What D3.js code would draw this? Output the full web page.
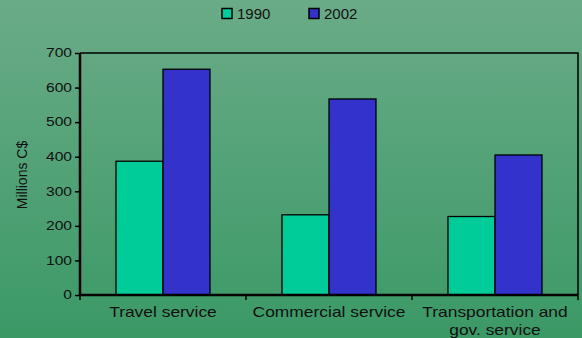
<!DOCTYPE html>
<html>
<head>
<meta charset="utf-8">
<script src="https://cdn.jsdelivr.net/npm/d3@7"></script>
<style>
  body { margin: 0; }
  svg { display: block; font-family: Arial, "Liberation Sans", sans-serif; }
</style>
</head>
<body>
<div id="container"></div>
<script>
const w = 582,
    h = 338;

// data
const categories = ["Travel service", "Commercial service", "Transportation and|gov. service"];
const years = ["1990", "2002"];
const values1990 = [387, 232, 227];
const values2002 = [653, 567, 405];
const yTicks = [0, 100, 200, 300, 400, 500, 600, 700];
const colors = {"1990": "#00cc99", "2002": "#3333cc"};

var svg = d3.select("div#container")
    .append("svg")
    .attr("width", w)
    .attr("height", h);

// background gradient
var grad = svg.append("defs").append("linearGradient")
    .attr("id", "bg")
    .attr("x1", 0).attr("y1", 0).attr("x2", 0).attr("y2", 1);
grad.append("stop").attr("offset", "0%").attr("stop-color", "#6aab88");
grad.append("stop").attr("offset", "100%").attr("stop-color", "#3b9966");
svg.append("rect")
    .attr("width", w)
    .attr("height", h)
    .style("fill", "url(#bg)");

var x = d3.scaleBand().domain(categories).range([80, 578]);
var x1 = d3.scaleBand().domain(years).range([0, x.bandwidth()]).paddingOuter(0.766);
var y = d3.scaleLinear().domain([0, 700]).range([295, 53]);

var rows = categories.map((c, i) => ({cat: c, vals: [
    {year: "1990", v: values1990[i]},
    {year: "2002", v: values2002[i]}
]}));

// frame (top and right)
svg.append("path")
    .attr("d", "M" + x.range()[0] + "," + y(700) + "H" + x.range()[1] + "V" + y(0))
    .attr("fill", "none")
    .attr("stroke", "#000")
    .attr("stroke-width", 1.5);

// bars
svg.append("g").selectAll("g")
    .data(rows)
    .enter().append("g")
    .attr("transform", d => "translate(" + x(d.cat) + ",0)")
    .selectAll("rect")
    .data(d => d.vals)
    .enter().append("rect")
    .attr("x", d => x1(d.year))
    .attr("y", d => y(d.v))
    .attr("width", x1.bandwidth())
    .attr("height", d => y(0) - y(d.v))
    .style("fill", d => colors[d.year])
    .style("stroke", "#000")
    .style("stroke-width", 1.3);

// y axis
var yAxis = svg.append("g")
    .attr("transform", "translate(80,0)")
    .call(d3.axisLeft(y).tickValues(yTicks).tickSize(5).tickPadding(3));
yAxis.select(".domain").attr("stroke", "#000").attr("stroke-width", 2.5).attr("d", "M0," + y(0) + "V" + y(700));
yAxis.selectAll(".tick line").attr("stroke", "#000").attr("stroke-width", 1.5);
yAxis.selectAll("text")
    .style("font-size", "12px")
    .style("fill", "#111")
    .each(function () {
        var len = this.getComputedTextLength();
        d3.select(this).attr("textLength", len * 1.3).attr("lengthAdjust", "spacingAndGlyphs");
    });

// x axis
svg.append("line")
    .attr("x1", 80).attr("x2", 578)
    .attr("y1", y(0)).attr("y2", y(0))
    .attr("stroke", "#000").attr("stroke-width", 2.5);
var xTickPos = categories.map(c => x(c)).concat([x.range()[1]]);
svg.append("g").selectAll("line")
    .data(xTickPos)
    .enter().append("line")
    .attr("x1", d => d).attr("x2", d => d)
    .attr("y1", y(0)).attr("y2", y(0) + 5)
    .attr("stroke", "#000").attr("stroke-width", 1.5);

var xl = svg.append("g").selectAll("text")
    .data(categories)
    .enter().append("text")
    .attr("x", d => x(d) + x.bandwidth() / 2)
    .attr("y", 317)
    .attr("text-anchor", "middle")
    .style("font-size", "15px")
    .style("fill", "#111");
xl.each(function (d) {
    var t = d3.select(this);
    d.split("|").forEach(function (part, i) {
        var ts = t.append("tspan")
            .attr("x", x(d) + x.bandwidth() / 2)
            .attr("dy", i === 0 ? 0 : 18)
            .text(part);
        var len = ts.node().getComputedTextLength();
        ts.attr("textLength", len * 1.16).attr("lengthAdjust", "spacingAndGlyphs");
    });
});

// y title
svg.append("text")
    .attr("transform", "translate(27," + 175 + ") rotate(-90)")
    .attr("text-anchor", "middle")
    .style("font-size", "14px")
    .style("fill", "#111")
    .text("Millions C$");

// legend
var legend = svg.append("g");
var legX = [222, 309];
years.forEach(function (yr, i) {
    legend.append("rect")
        .attr("x", legX[i])
        .attr("y", 8.5)
        .attr("width", 10)
        .attr("height", 10)
        .style("fill", colors[yr])
        .style("stroke", "#000")
        .style("stroke-width", 1.5);
    legend.append("text")
        .attr("x", legX[i] + 15)
        .attr("y", 19)
        .style("font-size", "15px")
        .style("fill", "#111")
        .text(yr);
});
</script>
</body>
</html>
